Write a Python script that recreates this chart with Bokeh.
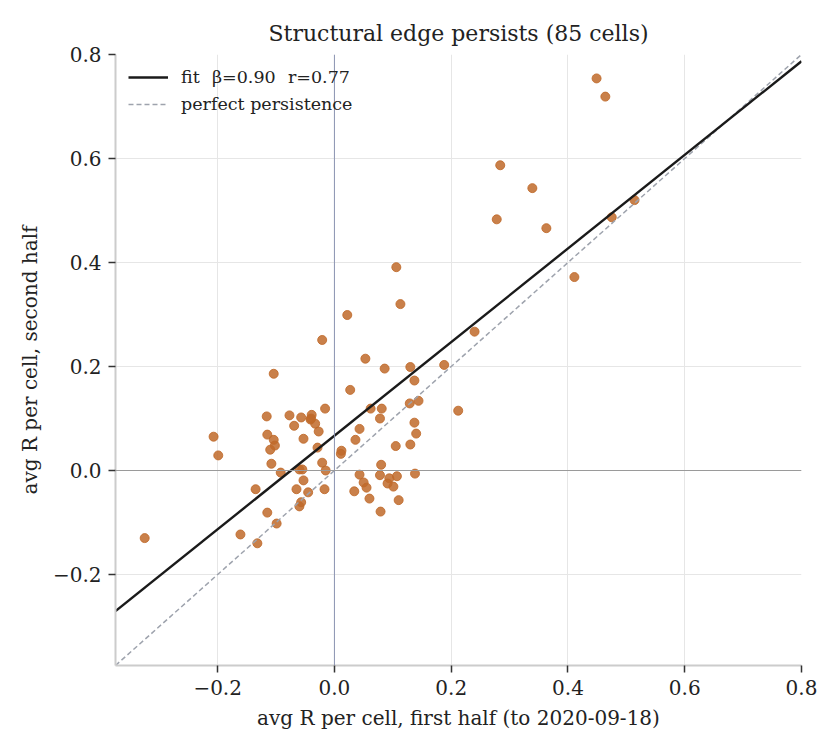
from bokeh.plotting import figure
from bokeh.models import FixedTicker, CustomJSTickFormatter, Span, Legend, LegendItem
from bokeh.embed import file_html
from bokeh.resources import INLINE

x_first = [-0.325, -0.207, -0.199, -0.161, -0.135, -0.132, -0.116, -0.115, -0.115, -0.104,
           -0.104, -0.102, -0.110, -0.108, -0.099, -0.092, -0.077, -0.069, -0.065, -0.060,
           -0.060, -0.057, -0.055, -0.053, -0.053, -0.057, -0.045, -0.039, -0.041, -0.033,
           -0.027, -0.029, -0.021, -0.021, -0.016, -0.015, -0.017,
           0.012, 0.011, 0.027, 0.113, 0.022, 0.240, 0.053, 0.086, 0.130, 0.188,
           0.137, 0.144, 0.129, 0.212, 0.062, 0.081, 0.078, 0.137, 0.043, 0.140,
           0.036, 0.105, 0.130, 0.080, 0.043, 0.078, 0.107, 0.138, 0.094, 0.050,
           0.055, 0.091, 0.101, 0.034, 0.060, 0.110, 0.079, 0.106, 0.449, 0.464,
           0.284, 0.339, 0.278, 0.363, 0.475, 0.514, 0.411, -0.040]
y_second = [-0.130, 0.065, 0.029, -0.123, -0.036, -0.140, 0.104, 0.069, -0.081, 0.186,
            0.059, 0.048, 0.040, 0.013, -0.102, -0.004, 0.106, 0.086, -0.036, 0.002,
            -0.069, 0.102, 0.002, 0.061, -0.019, -0.061, -0.042, 0.107, 0.098, 0.090,
            0.075, 0.044, 0.251, 0.015, 0.119, 0.000, -0.036,
            0.038, 0.032, 0.155, 0.320, 0.299, 0.267, 0.215, 0.196, 0.199, 0.203,
            0.173, 0.134, 0.129, 0.115, 0.119, 0.119, 0.100, 0.092, 0.080, 0.071,
            0.059, 0.047, 0.050, 0.011, -0.008, -0.009, -0.011, -0.006, -0.015, -0.023,
            -0.033, -0.025, -0.031, -0.040, -0.054, -0.057, -0.079, 0.391, 0.754, 0.719,
            0.587, 0.543, 0.483, 0.466, 0.487, 0.520, 0.372, 0.100]

fit_beta = 0.90
fit_intercept = 0.067
fit_r = 0.77
axis_min, axis_max = -0.375, 0.8
ticks = [-0.2, 0.0, 0.2, 0.4, 0.6, 0.8]

FONT = "DejaVu Serif"
TXT = "#222222"

p = figure(width=840, height=750, output_backend="svg", toolbar_location=None,
           x_range=(axis_min, axis_max), y_range=(axis_min, axis_max),
           title="Structural edge persists (85 cells)",
           min_border_left=115, min_border_right=39, min_border_top=54, min_border_bottom=85)

p.title.text_font = FONT
p.title.text_font_size = "22px"
p.title.text_font_style = "normal"
p.title.align = "center"
p.title.text_color = TXT
p.title.standoff = 17

p.xgrid.grid_line_color = "#e6e6e6"
p.ygrid.grid_line_color = "#e6e6e6"
p.outline_line_color = None

fmt = CustomJSTickFormatter(code="return tick.toFixed(1).replace('-', '\\u2212');")
for ax in (p.xaxis[0], p.yaxis[0]):
    ax.ticker = FixedTicker(ticks=ticks)
    ax.formatter = fmt
    ax.axis_line_color = "#cccccc"
    ax.axis_line_width = 2
    ax.major_tick_line_color = "#333333"
    ax.major_tick_line_width = 1.5
    ax.major_tick_out = 7
    ax.major_tick_in = 0
    ax.minor_tick_line_color = None
    ax.major_label_standoff = 7
    ax.major_label_text_font = FONT
    ax.major_label_text_font_size = "20px"
    ax.major_label_text_color = TXT
    ax.axis_label_text_font = FONT
    ax.axis_label_text_font_size = "20px"
    ax.axis_label_text_font_style = "normal"
    ax.axis_label_text_color = TXT
    ax.axis_label_standoff = 8

p.xaxis.axis_label = "avg R per cell, first half (to 2020-09-18)"
p.yaxis.axis_label = "avg R per cell, second half"

p.add_layout(Span(location=0, dimension="height", line_color="#8c95b3", line_width=1))
p.add_layout(Span(location=0, dimension="width", line_color="#9a9a9a", line_width=1))

p.scatter(x_first, y_second, size=9, fill_color="#bf6a2a", fill_alpha=0.85,
          line_color="#bf6a2a", line_alpha=0.85)

line_x = [axis_min, axis_max]
fit_y = [fit_intercept + fit_beta * v for v in line_x]
r_dash = p.line(line_x, line_x, line_color="#9ea3ad", line_width=1.5, line_dash="5 3")
r_fit = p.line(line_x, fit_y, line_color="#1a1a1a", line_width=2.4)

GAP = "\u2002\u2009"
legend = Legend(items=[
    LegendItem(label=f"fit{GAP}\u03b2={fit_beta:.2f}{GAP}r={fit_r:.2f}", renderers=[r_fit]),
    LegendItem(label="perfect persistence", renderers=[r_dash]),
], location="top_left")
legend.label_text_font = FONT
legend.label_text_font_size = "17.5px"
legend.label_text_color = TXT
legend.border_line_color = None
legend.background_fill_alpha = 0.0
legend.glyph_width = 40
legend.glyph_height = 20
legend.label_height = 20
legend.label_standoff = 13
legend.spacing = 7
legend.margin = 13
legend.padding = 7
p.add_layout(legend)

open("out.html", "w").write(file_html(p, INLINE))
